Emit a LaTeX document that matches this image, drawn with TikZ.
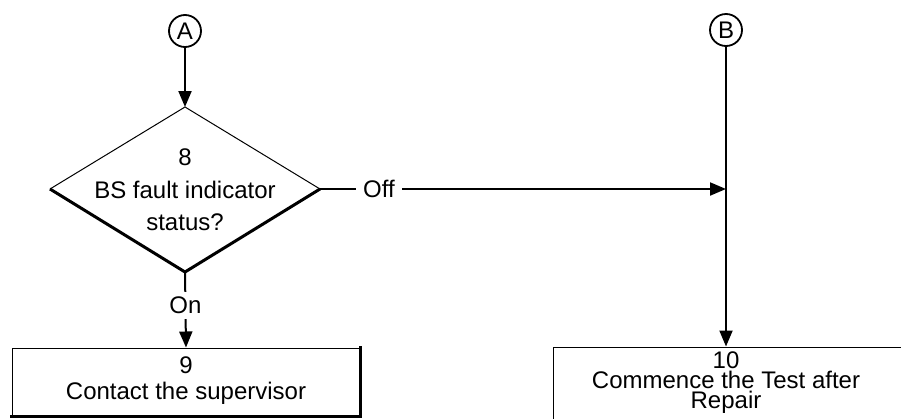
\documentclass[tikz,border=0pt]{standalone}
\usepackage{fontspec}
\setmainfont{Liberation Sans}
\usetikzlibrary{arrows.meta}
\begin{document}
\begin{tikzpicture}[x=1pt,y=-1pt,
  every node/.style={font=\fontsize{24}{26}\selectfont, inner sep=0pt},
  conn/.style={line width=2pt, -{Triangle[length=16pt,width=13pt]}},
  connector/.style={circle, draw, line width=1.8pt, minimum size=32pt},
  thinedge/.style={line width=1pt},
  shadowedge/.style={line width=3pt, line cap=rect},
  label/.style={fill=white, inner xsep=7pt, inner ysep=5pt}]
\useasboundingbox (0,0) rectangle (901,418);
\clip (0,0) rectangle (901,418);

% off-page connectors
\node[connector] (A) at (185,31) {A};
\node[connector] (B) at (726,30) {B};

% decision 8
\coordinate (d8n) at (185,107);
\coordinate (d8e) at (320,189);
\coordinate (d8s) at (185,272);
\coordinate (d8w) at (50,189);
\draw[thinedge] (d8w) -- (d8n) -- (d8e);
\draw[line width=3pt, line join=miter] (d8w) -- (d8s) -- (d8e);
\node[align=center, font=\fontsize{24}{32.5}\selectfont] (d8) at (185,190)
  {8\\BS fault indicator\\status?};

% process boxes
\node[draw, thinedge, minimum width=348pt, minimum height=68pt] (b9) at (186,382) {};
\draw[shadowedge] (b9.north east) -- (b9.south east) -- (b9.south west);
\node[align=center, font=\fontsize{24}{26}\selectfont] (t9) at (186,381) {9\\Contact the supervisor};

\node[draw, thinedge, minimum width=352pt, minimum height=90pt] (b10) at (729,392) {};
\node[align=center, font=\fontsize{24}{20}\selectfont] (t10) at (726,383) {10\\Commence the Test after\\Repair};

% junction on the B line
\coordinate (j) at (B.south |- d8e);

% connectors
\draw[conn] (A) -- (d8n);
\draw[conn] (d8s) -- node[label, pos=0.44] (on) {On} (b9.north);
\draw[conn] (d8e) -- node[label, pos=0.145] (off) {Off} (j);
\draw[conn] (B) -- (B.south |- b10.north);
\end{tikzpicture}
\end{document}
